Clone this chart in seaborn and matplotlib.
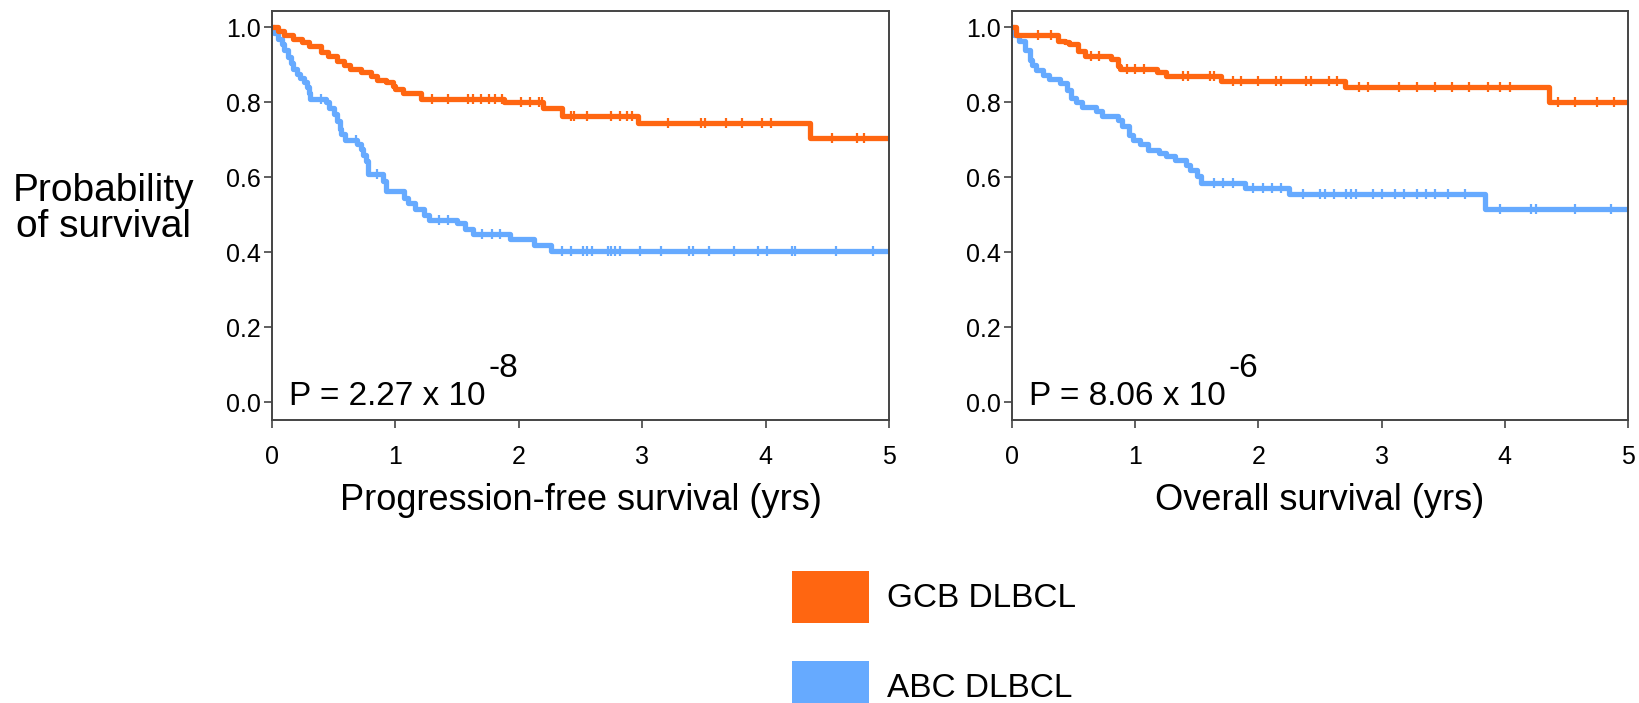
import numpy as np
import pandas as pd
import matplotlib.pyplot as plt
import seaborn as sns
from matplotlib.patches import Patch

# Kaplan-Meier steps: time of each drop (yrs) and survival after it
pfs_gcb_t = [0.05, 0.10, 0.17, 0.24, 0.30, 0.40, 0.45, 0.53, 0.58, 0.63, 0.72, 0.80,
             0.85, 0.92, 0.98, 1.00, 1.06, 1.21, 1.88, 2.20, 2.35, 2.97, 4.36]
pfs_gcb_s = [0.99, 0.98, 0.97, 0.96, 0.95, 0.935, 0.925, 0.91, 0.90, 0.89, 0.88, 0.87,
             0.86, 0.855, 0.845, 0.835, 0.825, 0.81, 0.80, 0.785, 0.765, 0.745, 0.705]
pfs_gcb_cens = [1.30, 1.43, 1.59, 1.63, 1.69, 1.76, 1.81, 1.86, 2.02, 2.09, 2.16, 2.19,
                2.42, 2.45, 2.55, 2.75, 2.82, 2.88, 2.92, 3.21, 3.48, 3.51, 3.68, 3.81,
                3.97, 4.04, 4.54, 4.74, 4.80]

pfs_abc_t = [0.02, 0.05, 0.08, 0.10, 0.13, 0.15, 0.17, 0.20, 0.23, 0.26, 0.28, 0.30,
             0.31, 0.44, 0.46, 0.50, 0.53, 0.55, 0.56, 0.59, 0.69, 0.72, 0.74, 0.76,
             0.775, 0.90, 0.92, 1.07, 1.10, 1.16, 1.23, 1.27, 1.50, 1.56, 1.63, 1.93,
             2.12, 2.26]
pfs_abc_s = [0.985, 0.97, 0.955, 0.94, 0.92, 0.905, 0.89, 0.875, 0.865, 0.855, 0.84, 0.825,
             0.81, 0.80, 0.785, 0.77, 0.75, 0.73, 0.715, 0.70, 0.69, 0.675, 0.66, 0.645,
             0.61, 0.59, 0.565, 0.545, 0.532, 0.515, 0.50, 0.487, 0.479, 0.462, 0.448, 0.435,
             0.42, 0.404]
pfs_abc_cens = [0.40, 0.68, 0.85, 1.35, 1.43, 1.70, 1.78, 1.85, 2.35, 2.42, 2.52, 2.55,
                2.59, 2.72, 2.75, 2.78, 2.82, 2.98, 3.15, 3.38, 3.41, 3.54, 3.74, 3.94,
                4.01, 4.21, 4.24, 4.57, 4.87]

os_gcb_t = [0.036, 0.375, 0.43, 0.464, 0.536, 0.59, 0.80, 0.857, 0.875, 1.18, 1.25,
            1.70, 2.70, 4.36]
os_gcb_s = [0.98, 0.965, 0.96, 0.955, 0.936, 0.925, 0.915, 0.896, 0.89, 0.88, 0.87,
            0.856, 0.84, 0.80]
os_gcb_cens = [0.21, 0.32, 0.64, 0.71, 0.93, 1.00, 1.07, 1.39, 1.43, 1.61, 1.64, 1.79,
               1.86, 2.00, 2.14, 2.18, 2.39, 2.43, 2.57, 2.64, 2.82, 2.89, 3.14, 3.29,
               3.43, 3.57, 3.71, 3.86, 3.96, 4.04, 4.43, 4.57, 4.75, 4.89]

os_abc_t = [0.018, 0.054, 0.107, 0.143, 0.16, 0.196, 0.25, 0.304, 0.393, 0.446, 0.482,
            0.518, 0.571, 0.679, 0.732, 0.857, 0.893, 0.946, 0.982, 1.036, 1.107, 1.196,
            1.25, 1.32, 1.41, 1.446, 1.50, 1.536, 1.893, 2.25, 3.84]
os_abc_s = [0.98, 0.963, 0.94, 0.914, 0.90, 0.887, 0.874, 0.863, 0.852, 0.834, 0.812,
            0.80, 0.787, 0.776, 0.763, 0.754, 0.737, 0.714, 0.70, 0.69, 0.674, 0.665,
            0.656, 0.647, 0.634, 0.62, 0.603, 0.585, 0.572, 0.556, 0.517]
os_abc_cens = [1.64, 1.71, 1.79, 1.96, 2.04, 2.11, 2.18, 2.36, 2.50, 2.54, 2.61, 2.71,
               2.75, 2.79, 2.93, 3.00, 3.11, 3.18, 3.29, 3.36, 3.43, 3.54, 3.68, 3.96,
               4.21, 4.25, 4.57, 4.86]

groups = ["GCB DLBCL", "ABC DLBCL"]
colors = {"GCB DLBCL": "#ff6611", "ABC DLBCL": "#66aaff"}
p_texts = ["2.27 x 10", "8.06 x 10"]
p_exps = ["-8", "-6"]
xlabels = ["Progression-free survival (yrs)", "Overall survival (yrs)"]
t_max = 5


def km_frame(t, s, name):
    times = [0] + list(t) + [t_max]
    surv = [1.0] + list(s) + [s[-1]]
    return pd.DataFrame({"time": times, "surv": surv, "group": name})


def surv_at(df, c):
    idx = np.searchsorted(df["time"].values, c, side="right") - 1
    return df["surv"].values[idx]


sns.set_theme(style="ticks")
plt.rcParams["font.family"] = ["Liberation Sans", "DejaVu Sans"]
plt.rcParams["text.color"] = "black"
plt.rcParams["axes.labelcolor"] = "black"

fig = plt.figure(figsize=(16.39, 7.03), dpi=100)
ax1 = fig.add_axes([272 / 1639, 1 - 420 / 703, 617 / 1639, 409.5 / 703])
ax2 = fig.add_axes([1012 / 1639, 1 - 420 / 703, 616 / 1639, 409.5 / 703])

panels = [
    (ax1, [(pfs_gcb_t, pfs_gcb_s, pfs_gcb_cens), (pfs_abc_t, pfs_abc_s, pfs_abc_cens)]),
    (ax2, [(os_gcb_t, os_gcb_s, os_gcb_cens), (os_abc_t, os_abc_s, os_abc_cens)]),
]

for i, (ax, curves) in enumerate(panels):
    frames = [km_frame(t, s, g) for (t, s, _), g in zip(curves, groups)]
    df = pd.concat(frames, ignore_index=True)
    # draw the lower curve first so the orange one sits on top near the start
    sns.lineplot(data=df, x="time", y="surv", hue="group", hue_order=groups[::-1],
                 palette=colors, estimator=None, sort=False, drawstyle="steps-post",
                 lw=3.8, legend=False, ax=ax)
    for (t, s, cens), g, frame in zip(curves, groups, frames):
        ys = [surv_at(frame, c) for c in cens]
        ax.plot(cens, ys, ls="none", marker="|", ms=7, mew=1.6, color=colors[g])

    ax.set_xlim(0, t_max)
    ax.set_ylim(-0.047, 1.045)
    ax.set_xticks(range(0, 6))
    ax.set_yticks(np.arange(0, 1.01, 0.2))
    ax.set_yticklabels([f"{v:.1f}" for v in np.arange(0, 1.01, 0.2)])
    ax.tick_params(axis="both", labelsize=18, length=6, width=1.2, color="#444444",
                   labelcolor="black")
    ax.tick_params(axis="y", pad=2)
    ax.tick_params(axis="x", pad=12)
    for sp in ax.spines.values():
        sp.set_visible(True)
        sp.set_color("#444444")
        sp.set_linewidth(1.4)
    ax.set_xlabel(xlabels[i], fontsize=26, labelpad=10)
    ax.set_ylabel("")

    txt = ax.text(0.028, 0.036, "P = " + p_texts[i], transform=ax.transAxes,
                  fontsize=24, ha="left", va="baseline")
    ax.annotate(p_exps[i], xy=(1.0, 0.92), xycoords=txt, xytext=(2, 0),
                textcoords="offset points", fontsize=24, ha="left", va="bottom")

fig.text(104 / 1639, 1 - 209 / 703, "Probability\nof survival", fontsize=28,
         ha="center", va="center", linespacing=1.0)

handles = [Patch(facecolor=colors[g], edgecolor="none") for g in groups]
fig.legend(handles, groups, loc="upper left", bbox_to_anchor=(792 / 1639, 1 - 571 / 703),
           frameon=False, fontsize=24, handlelength=2.3, handleheight=2.0,
           handletextpad=0.55, labelspacing=1.15, borderpad=0, borderaxespad=0)

fig.savefig("out.png", dpi=100)
